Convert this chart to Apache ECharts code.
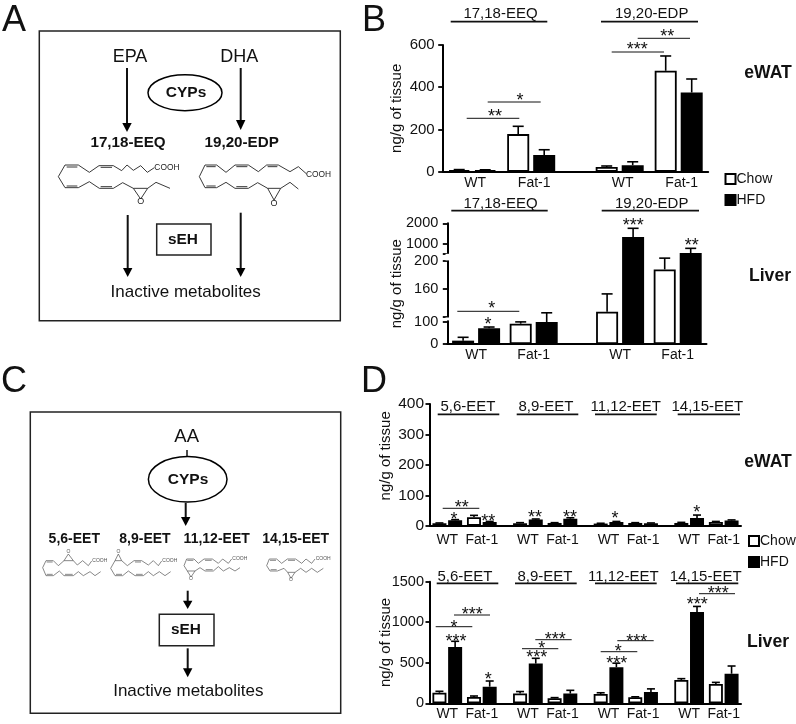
<!DOCTYPE html>
<html><head><meta charset="utf-8">
<style>html,body{margin:0;padding:0;background:#fff}#c{width:796px;height:724px}</style>
<script src="https://cdn.jsdelivr.net/npm/echarts@6/dist/echarts.min.js"></script>
</head><body><div id="c"></div>
<script>
// ---------- data ----------
const bCats = ['', 'WT', '', 'Fat-1', '', '', 'WT', '', 'Fat-1', ''];
const bSlots = [1, 3, 6, 8];
const bEwatChow = [8, 178, 22, 478];
const bEwatChowTop = [10, 215, 27, 548];
const bEwatHfd = [7, 79, 31, 375];
const bEwatHfdTop = [9, 104, 47, 439];

const bLiverChow = [15, 91, 127.6, 188];
const bLiverChowTop = [30, 99, 153, 330];
const bLiverHfd = [70, 98, 1339, 565];
const bLiverHfdTop = [76, 126, 1758, 790];
const bLiverTicks = [0, 100, 160, 200, 1000, 2000];
const bLiverBreakEnds = [120, 550];
// axis pieces of the broken liver axis: value -> height on the drawn axis
const liverPieces = [[0, 0], [100, 22.33], [120, 27], [200, 83], [550, 90.7], [1000, 100], [2000, 120.7]];

const dCats = ['', 'WT', '', '', 'Fat-1', '', '', '', 'WT', '', '', 'Fat-1', '', '', '', 'WT', '', '', 'Fat-1', '', '', '', 'WT', '', '', 'Fat-1', ''];
const dSlots = [1, 4, 8, 11, 15, 18, 22, 25];
const dEwatChow = [8, 28, 8, 9, 7, 9, 9, 12];
const dEwatChowTop = [9, 34, 10, 10, 8, 10, 11, 14];
const dEwatHfd = [18, 12, 20, 23, 12, 8, 25, 17];
const dEwatHfdTop = [20, 14, 22, 26, 14, 9, 35, 19];
const dLiverChow = [130, 78, 120, 62, 115, 75, 288, 238];
const dLiverChowTop = [148, 90, 145, 70, 130, 80, 304, 258];
const dLiverHfd = [695, 205, 490, 120, 445, 140, 1125, 365];
const dLiverHfdTop = [765, 275, 555, 160, 495, 178, 1195, 460];

// ---------- annotations ----------
const titles = [
 ['17,18-EEQ', 500.5, 13.5, 450.7, 547.3, 21.7], ['19,20-EDP', 651.7, 13.5, 601, 698, 21.7],
 ['17,18-EEQ', 500.5, 204, 451.3, 547.7, 210.7], ['19,20-EDP', 651.7, 204, 601.7, 699, 210.7],
 ['5,6-EET', 468, 407, 437.7, 499.3, 414.3], ['8,9-EET', 546, 407, 516.7, 578.3, 414.3],
 ['11,12-EET', 625.7, 407, 595, 656.7, 414.3], ['14,15-EET', 707.3, 407, 677.7, 740, 414.3],
 ['5,6-EET', 465, 576.7, 436.7, 498.3, 583.3], ['8,9-EET', 545, 576.7, 515, 576.7, 583.3],
 ['11,12-EET', 623.3, 576.7, 595, 656.7, 583.3], ['14,15-EET', 705.7, 576.7, 676, 738.3, 583.3]
];
const brackets = [
 [466.7, 519.3, 118.3], [487.7, 540.7, 102], [611.7, 664, 52], [637.7, 690, 38.3],
 [457.3, 519.3, 311.3], [442.7, 479.3, 508.3],
 [435.7, 472.3, 626.7], [454, 490, 615], [522, 558.3, 648.7], [535.3, 571.7, 639.7],
 [600.7, 637.3, 651.7], [617.3, 653.7, 640.7], [699, 735, 593.7]
];
const stars = [
 [495, 112.7, '**'], [520, 96.7, '*'], [637.3, 46, '***'], [667.3, 32.3, '**'],
 [491.7, 305, '*'], [488, 320.7, '*'], [633.3, 221.7, '***'], [691.7, 241.7, '**'],
 [461.7, 504, '**'], [454, 515.7, '*'], [488.3, 517.7, '**'], [535, 513.3, '**'], [570, 513.3, '**'], [615, 515, '*'], [696.7, 508.3, '*'],
 [454, 623.3, '*'], [456, 637.3, '***'], [472.3, 610.7, '***'], [488.3, 675.3, '*'],
 [541.7, 645, '*'], [536.7, 654, '***'], [555.3, 636, '***'],
 [618.3, 647.7, '*'], [616.7, 659.3, '***'], [636.7, 637.3, '***'],
 [697.3, 601, '***'], [718.3, 590, '***']
];
const tissueLabels = [['eWAT', 768, 72.7], ['Liver', 770, 275.7], ['eWAT', 768, 462], ['Liver', 768, 641.7]];
const panelLetters = [['A', 14, 21], ['B', 374, 21], ['C', 14, 382], ['D', 374, 382]];

const FONT = '"Liberation Sans", Arial, sans-serif';
const els = [];
function T(text, x, y, size, bold, extra) {
  els.push({type:'text', silent:true, z:20, style:Object.assign({text, x, y, font:(bold?'bold ':'')+size+'px '+FONT, fill:'#111', align:'center', verticalAlign:'middle'}, extra||{})});
}
function L(x1, y1, x2, y2, w, c) {
  els.push({type:'line', silent:true, z:20, shape:{x1,y1,x2,y2}, style:{stroke:c||'#111', lineWidth:w||1.5}});
}
function arrow(x, y1, y2, yHead) {
  L(x, y1, x, y2 + 1, 2);
  els.push({type:'polygon', silent:true, z:20, shape:{points:[[x-4.7,y2],[x+4.7,y2],[x,yHead]]}, style:{fill:'#000'}});
}
function box(x1, y1, x2, y2, w, c) {
  els.push({type:'rect', silent:true, z:15, shape:{x:x1,y:y1,width:x2-x1,height:y2-y1}, style:{fill:'none', stroke:c||'#222', lineWidth:w||1.5}});
}
function ellipse(cx, cy, rx, ry) {
  els.push({type:'ellipse', silent:true, z:20, shape:{cx,cy,rx,ry}, style:{fill:'#fff', stroke:'#000', lineWidth:1.5}});
}
function molecule(m) {
  const p = a => [m.ox + a[0]/3, m.oy + a[1]/3];
  const col = m.c || '#222', w = m.w || 0.9;
  els.push({type:'polyline', silent:true, z:18, shape:{points:m.chain.map(p)}, style:{stroke:col, lineWidth:w, fill:'none'}});
  m.dbl.forEach(d => { const a=p([d[0],d[1]]), b=p([d[2],d[3]]); L(a[0],a[1],b[0],b[1],w,col); });
  const a=p(m.ep[0]), b=p(m.ep[1]), o=p(m.ep[2]);
  L(a[0],a[1],o[0],o[1],w,col); L(b[0],b[1],o[0],o[1],w,col);
  if (m.oText) { const t=p(m.oText); T('O', t[0], t[1], m.oSize, false, {fill:col}); }
  const h=p(m.cooh); T('COOH', h[0], h[1], m.hSize, false, {align:'left', fill:col});
}

// panel A
box(39.3, 31, 340.3, 320.7, 1.5);
T('EPA', 130, 57, 18); T('DHA', 239.3, 57, 18);
arrow(127, 68, 123, 132); arrow(240.7, 68, 120, 130);
ellipse(185, 92.7, 37, 18); T('CYPs', 186, 93, 15.5, true);
T('17,18-EEQ', 128, 143, 15.2, true); T('19,20-EDP', 241.7, 143, 15.2, true);
molecule({ox:50, oy:155,
 chain:[[313,38],[292,52],[272,32],[250,46],[231,30],[215,47],[190,32],[147,32],[118,52],[85,30],[45,30],[25,65],[45,98],[85,98],[118,80],[148,100],[190,100],[218,83],[250,100],[293,100],[318,82],[360,100]],
 dbl:[[50,36,82,36],[152,37,186,37],[50,93,82,93],[152,95,186,95]], ep:[[250,100],[293,100],[272,132]], oText:[272,141], oSize:9, cooh:[313,37], hSize:8.4});
molecule({ox:195, oy:155,
 chain:[[335,57],[310,35],[285,50],[250,30],[215,30],[190,50],[160,30],[120,30],[93,52],[65,30],[30,30],[13,65],[30,98],[65,98],[93,82],[120,100],[160,100],[188,83],[218,100],[257,100],[285,82],[310,102]],
 dbl:[[34,35,62,35],[124,35,157,35],[218,35,247,35],[34,93,62,93],[124,95,157,95]], ep:[[218,100],[257,100],[237,135]], oText:[237,145], oSize:9, cooh:[333,58], hSize:8.4});
arrow(127.7, 215, 268, 277); arrow(240.7, 212.7, 268, 277);
box(156.7, 224, 211, 255, 1.5); T('sEH', 183, 239.7, 15.4, true);
T('Inactive metabolites', 185.7, 292.7, 17);

// panel C
box(30.3, 412, 340.7, 713.3, 1.5);
T('AA', 186.7, 437.3, 18.5);
L(187, 450, 187, 457, 1.5);
ellipse(187.7, 479.3, 39.3, 22.7); T('CYPs', 188, 479.7, 15.5, true);
arrow(185.7, 502.7, 517, 526);
T('5,6-EET', 74.3, 538.7, 14, true); T('8,9-EET', 145, 538.7, 14, true);
T('11,12-EET', 216.7, 538.7, 14, true); T('14,15-EET', 295.7, 538.7, 14, true);
const G = '#555';
molecule({ox:40, oy:545, c:G, w:0.7,
 chain:[[155,48],[145,62],[128,47],[112,60],[100,47],[72,47],[55,62],[40,47],[18,47],[8,68],[18,92],[40,92],[58,78],[72,92],[100,92],[115,80],[130,92],[150,80],[165,92],[182,80]],
 dbl:[[20,51,38,51],[20,88,38,88],[75,88,98,88]], ep:[[72,47],[100,47],[85,27]], oText:[85,21], oSize:5, cooh:[157,47], hSize:5});
molecule({ox:40, oy:545, c:G, w:0.7,
 chain:[[365,48],[355,62],[340,47],[325,60],[305,47],[282,47],[262,62],[245,47],[225,47],[212,70],[225,92],[248,92],[265,78],[285,92],[310,92],[325,80],[340,92],[358,80],[375,92],[392,80]],
 dbl:[[285,51,303,51],[228,88,246,88],[288,88,308,88]], ep:[[225,47],[245,47],[235,27]], oText:[235,21], oSize:5, cooh:[367,47], hSize:5});
molecule({ox:180, oy:545, c:G, w:0.7,
 chain:[[155,42],[145,55],[128,42],[115,55],[97,42],[72,42],[55,55],[42,42],[20,42],[12,62],[22,78],[45,78],[60,68],[75,78],[100,78],[115,65],[130,78],[148,68],[165,78],[180,68]],
 dbl:[[22,46,40,46],[75,46,95,46],[77,74,98,74]], ep:[[22,78],[45,78],[33,96]], oText:[33,101], oSize:5, cooh:[157,40], hSize:5});
molecule({ox:180, oy:545, c:G, w:0.7,
 chain:[[405,42],[395,55],[378,42],[365,55],[347,42],[322,42],[305,55],[290,42],[268,42],[260,62],[270,78],[292,78],[312,70],[323,82],[345,82],[362,70],[378,82],[395,70],[412,82],[430,70]],
 dbl:[[270,46,288,46],[324,46,345,46],[272,74,290,74]], ep:[[323,82],[345,82],[333,100]], oText:[333,105], oSize:5, cooh:[407,42], hSize:5});
arrow(187.7, 590.7, 600.7, 609);
box(159.3, 614.3, 214, 645.7, 1.5); T('sEH', 186, 630, 15.4, true);
arrow(187.7, 648.3, 668.3, 677.3);
T('Inactive metabolites', 188.3, 691, 17);

// annotations
panelLetters.forEach(p => T(p[0], p[1], p[2], 36));
titles.forEach(t => { T(t[0], t[1], t[2], 15); L(t[3], t[5], t[4], t[5], 1.7); });
brackets.forEach(b => L(b[0], b[2], b[1], b[2], 1));
stars.forEach(s => T(s[2], s[0], s[1] + 4.5, 18));
tissueLabels.forEach(t => T(t[0], t[1], t[2], 17.6, true));
// gaps of the broken liver axis
[[253.8, 260.4], [317.5, 320.4]].forEach(g => els.push({type:'rect', silent:true, z:20, shape:{x:445.5, y:g[0], width:4, height:g[1]-g[0]}, style:{fill:'#fff'}}));

// ---------- scales / series ----------
function liverScale(v) {
  for (let i = 1; i < liverPieces.length; i++) {
    const a = liverPieces[i-1], b = liverPieces[i];
    if (v <= b[0]) return a[1] + (v - a[0]) / (b[0] - a[0]) * (b[1] - a[1]);
  }
  return liverPieces[liverPieces.length-1][1];
}
const ident = v => v;
const series = [];
function place(slots, vals, n, f) { const r = new Array(n).fill(null); slots.forEach((s,i) => r[s] = f(vals[i])); return r; }
function errSeries(g, slots, vals, tops, f, off, cap) {
  series.push({type:'custom', xAxisIndex:g, yAxisIndex:g, z:1, silent:true,
    encode:{x:0, y:[1,2]},
    data: slots.map((s,i) => [s, f(vals[i]), f(tops[i])]),
    renderItem(params, api) {
      const a = api.coord([api.value(0), api.value(1)]), b = api.coord([api.value(0), api.value(2)]);
      const x = a[0] + off, st = {stroke:'#000', lineWidth:1.6};
      return {type:'group', children:[
        {type:'line', shape:{x1:x,y1:a[1],x2:x,y2:b[1]}, style:st},
        {type:'line', shape:{x1:x-cap,y1:b[1],x2:x+cap,y2:b[1]}, style:st}]};
    }});
}
function panel(g, n, slots, chow, chowTop, hfd, hfdTop, f, bw, gapPx, cap) {
  const gapPct = (gapPx / bw * 100) + '%', off = (bw + gapPx) / 2;
  series.push({name:'Chow', type:'bar', xAxisIndex:g, yAxisIndex:g, z:2, barWidth:bw, barGap:gapPct,
    data:place(slots, chow, n, f), itemStyle:{color:'#fff', borderColor:'#000', borderWidth:1.8}});
  series.push({name:'HFD', type:'bar', xAxisIndex:g, yAxisIndex:g, z:2, barWidth:bw, barGap:gapPct,
    data:place(slots, hfd, n, f), itemStyle:{color:'#000', borderColor:'#000', borderWidth:1.8}});
  errSeries(g, slots, chow, chowTop, f, -off, cap);
  errSeries(g, slots, hfd, hfdTop, f, off, cap);
}
panel(0, bCats.length, bSlots, bEwatChow, bEwatChowTop, bEwatHfd, bEwatHfdTop, ident, 22, 4, 5.5);
panel(1, bCats.length, bSlots, bLiverChow, bLiverChowTop, bLiverHfd, bLiverHfdTop, liverScale, 22, 4, 5.5);
panel(2, dCats.length, dSlots, dEwatChow, dEwatChowTop, dEwatHfd, dEwatHfdTop, ident, 14, 1.7, 4);
panel(3, dCats.length, dSlots, dLiverChow, dLiverChowTop, dLiverHfd, dLiverHfdTop, ident, 14, 1.7, 4);

const axLine = {show:true, onZero:false, lineStyle:{color:'#000', width:2}};
function xA(g, cats, onBand, margin, pad) {
  return {type:'category', gridIndex:g, data:cats, boundaryGap:onBand, axisTick:{show:false}, axisLine:axLine,
    axisLabel:{interval:0, margin, fontSize:14, color:'#111', fontFamily:FONT, padding:pad||0, hideOverlap:false}, splitLine:{show:false}};
}
function yA(g, extra, size, nameGap, namePad, margin) {
  return Object.assign({type:'value', gridIndex:g, name:'ng/g of tissue', nameLocation:'middle', nameGap, nameMoveOverlap:false,
    nameTextStyle:{fontSize:15, color:'#111', fontFamily:FONT, padding:namePad||0},
    axisLine:axLine, axisTick:{show:true, length:4.5, lineStyle:{color:'#000', width:1.8}},
    axisLabel:{margin, fontSize:size, color:'#111', fontFamily:FONT, formatter:v => String(v)}, splitLine:{show:false}}, extra);
}
const liverTickAll = bLiverTicks.concat(bLiverBreakEnds).map(liverScale);
const option = {
  animation:false, backgroundColor:'#fff', textStyle:{fontFamily:FONT},
  graphic:{elements:els},
  legend:[
    {data:['Chow','HFD'], orient:'vertical', left:724.5, top:172, itemWidth:10, itemHeight:10, itemGap:7, padding:0, selectedMode:false,
     icon:'rect', textStyle:{fontSize:14, color:'#111', fontFamily:FONT, padding:[0,0,0,-4]}},
    {data:['Chow','HFD'], orient:'vertical', left:748, top:534, itemWidth:10, itemHeight:10, itemGap:7, padding:0, selectedMode:false,
     icon:'rect', textStyle:{fontSize:14, color:'#111', fontFamily:FONT, padding:[0,0,0,-4]}}
  ],
  grid:[
    {left:442.7, top:45, width:265.5, height:126.7},
    {left:447.3, top:223.3, width:259.2, height:120.7},
    {left:430, top:404, width:311, height:121.7},
    {left:430, top:581.7, width:311, height:121.6}
  ],
  xAxis:[ xA(0, bCats, false, 4, [0,0,0,6]), xA(1, bCats, false, 4), xA(2, dCats, true, 7), xA(3, dCats, true, 4) ],
  yAxis:[
    yA(0, {min:0, max:600, interval:200}, 15, 38, 0, 8),
    yA(1, {min:0, max:120.7,
      axisTick:{show:true, length:4.5, lineStyle:{color:'#000', width:1.8}, customValues:liverTickAll},
      axisLabel:{margin:9, fontSize:14.5, color:'#111', fontFamily:FONT, customValues:bLiverTicks.map(liverScale),
        formatter:v => { let best=0, d=1e9; bLiverTicks.forEach(t => { const e=Math.abs(liverScale(t)-v); if(e<d){d=e;best=t;} }); return String(best); }}
    }, 14.5, 43),
    yA(2, {min:0, max:400, interval:100}, 15.5, 37, [0,0,0,18], 6),
    yA(3, {min:0, max:1500, interval:500}, 14.5, 37, 0, 6)
  ],
  series
};
echarts.init(document.getElementById('c'), null, {renderer:'canvas'}).setOption(option);
</script></body></html>
